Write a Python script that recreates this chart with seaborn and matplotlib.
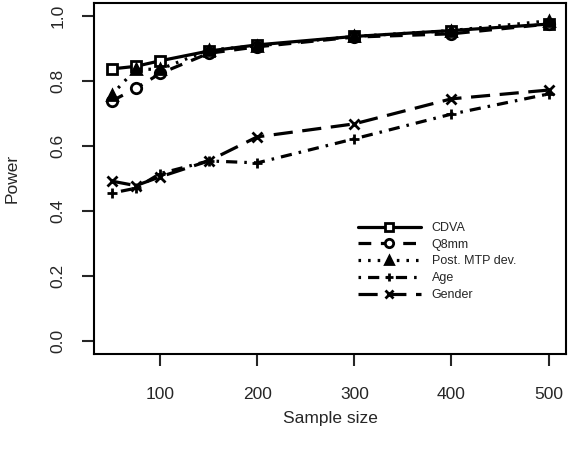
import numpy as np
import matplotlib
matplotlib.use("Agg")
import matplotlib.pyplot as plt
import pandas as pd
import seaborn as sns

# data
sample_size = [50, 75, 100, 150, 200, 300, 400, 500]
cdva = [0.837, 0.845, 0.862, 0.892, 0.911, 0.937, 0.955, 0.975]
q8mm = [0.738, 0.777, 0.823, 0.885, 0.905, 0.935, 0.945, 0.975]
post_mtp = [0.757, 0.836, 0.836, 0.895, 0.908, 0.937, 0.955, 0.985]
age = [0.455, 0.47, 0.515, 0.554, 0.548, 0.622, 0.698, 0.76]
gender = [0.492, 0.478, 0.505, 0.554, 0.628, 0.668, 0.745, 0.772]
labels = ["CDVA", "Q8mm", "Post. MTP dev.", "Age", "Gender"]
x_ticks = [100, 200, 300, 400, 500]
y_ticks = [0.0, 0.2, 0.4, 0.6, 0.8, 1.0]

df = pd.DataFrame({"n": sample_size * 5,
                   "power": cdva + q8mm + post_mtp + age + gender,
                   "series": np.repeat(labels, len(sample_size))})

sns.set_style("white")
plt.rcParams["font.family"] = ["Liberation Sans", "DejaVu Sans"]

fig = plt.figure(figsize=(5.7, 4.53), dpi=100)
ax = fig.add_axes([0.165, 0.2185, 0.828, 0.775])

# line / marker style per series (R-like lty and pch)
styles = {
    "CDVA": dict(linestyle="-", marker="s", mfc="white"),
    "Q8mm": dict(linestyle=(0, (4, 3)), marker="o", mfc="white"),
    "Post. MTP dev.": dict(linestyle=(0, (0.8, 2.2)), marker="^", mfc="black"),
    "Age": dict(linestyle=(0, (0.8, 2.2, 3.5, 2.2)), marker="+", mfc="black"),
    "Gender": dict(linestyle=(0, (6, 3)), marker="x", mfc="black"),
}

for name in labels:
    sub = df[df["series"] == name]
    st = styles[name]
    sns.lineplot(data=sub, x="n", y="power", ax=ax, color="black",
                 linestyle=st["linestyle"], marker=st["marker"],
                 markerfacecolor=st["mfc"], markeredgecolor="black",
                 markeredgewidth=2, markersize=7.5, linewidth=2.3,
                 label=name, dash_capstyle="butt")

ax.set_xlim(32, 518)
ax.set_ylim(-0.04, 1.04)
ax.set_xticks(x_ticks)
ax.set_yticks(y_ticks)
ax.set_yticklabels([f"{v:.1f}" for v in y_ticks], rotation=90, va="center")
ax.tick_params(direction="out", length=8.5, width=1.5, labelsize=12.5,
               bottom=True, left=True)
ax.tick_params(axis="x", pad=15)
ax.tick_params(axis="y", pad=12)
for sp in ax.spines.values():
    sp.set_color("black")
    sp.set_linewidth(1.5)

ax.set_xlabel("Sample size", fontsize=12.5, labelpad=7)
ax.set_ylabel("Power", fontsize=12.5, labelpad=22)

leg = ax.legend(loc="upper left", bbox_to_anchor=(358 / 570, 1 - 222 / 453),
                bbox_transform=fig.transFigure, frameon=False, fontsize=9,
                handlelength=5, handletextpad=0.9, labelspacing=0.38,
                borderaxespad=0, borderpad=0)
for h in leg.legend_handles:
    h.set_markersize(6)

fig.savefig("out.png", dpi=100)
